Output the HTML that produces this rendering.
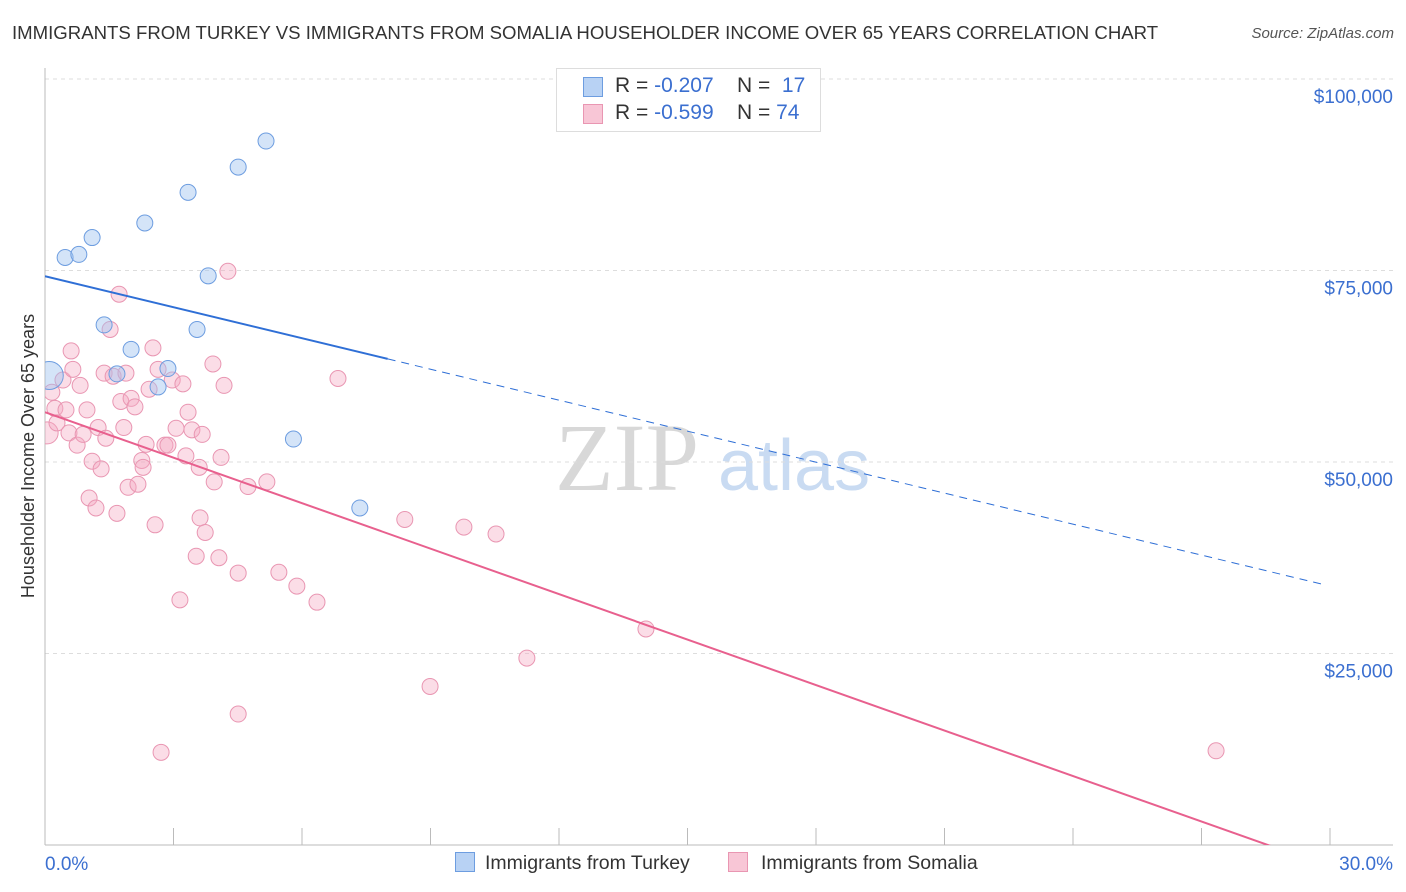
<!DOCTYPE html>
<html><head><meta charset="utf-8"><style>
body{margin:0;background:#fff;font-family:"Liberation Sans",sans-serif}
#wrap{position:relative;width:1406px;height:892px;overflow:hidden}
.t{position:absolute;white-space:nowrap}
</style></head><body>
<div id="wrap">
<div class="t" style="left:12px;top:22px;font-size:18.6px;color:#333">IMMIGRANTS FROM TURKEY VS IMMIGRANTS FROM SOMALIA HOUSEHOLDER INCOME OVER 65 YEARS CORRELATION CHART</div>
<div class="t" style="right:12px;top:25px;font-size:15px;color:#555;font-style:italic">Source: ZipAtlas.com</div>
<svg id="svg" width="1406" height="892" style="position:absolute;left:0;top:0"></svg>
</div>
<script>
const turkeyX=[0.1,0.47,0.79,1.10,1.38,1.68,2.01,2.33,2.64,2.87,3.34,3.55,3.81,4.51,5.16,5.80,7.35];
const turkeyY=[61300,76700,77100,79300,67900,61500,64700,81200,59800,62200,85200,67300,74300,88500,91900,53000,44000];
const somaliaX=[0.05,0.16,0.23,0.28,0.42,0.49,0.56,0.61,0.65,0.75,0.82,0.89,0.98,1.03,1.10,1.19,1.24,1.31,1.38,1.42,1.52,1.59,1.68,1.73,1.77,1.84,1.89,1.94,2.01,2.10,2.17,2.26,2.29,2.36,2.43,2.52,2.57,2.64,2.71,2.80,2.87,2.97,3.06,3.15,3.22,3.29,3.34,3.43,3.53,3.60,3.62,3.67,3.74,3.92,3.95,4.06,4.11,4.18,4.27,4.51,4.51,4.74,5.18,5.46,5.88,6.35,6.84,8.40,8.99,9.78,10.53,11.25,14.03,27.34];
const somaliaY=[53800,59100,57000,55100,60700,56800,53800,64500,62100,52200,60000,53600,56800,45300,50100,44000,54500,49100,61600,53100,67300,61200,43300,71900,57900,54500,61600,46700,58300,57200,47100,50200,49300,52300,59500,64900,41800,62100,12100,52200,52200,60700,54400,32000,60200,50800,56500,54200,37700,49300,42700,53600,40800,62800,47400,37500,50600,60000,74900,35500,17100,46800,47400,35600,33800,31700,60900,42500,20700,41500,40600,24400,28200,12300];
const yTicks=[25000,50000,75000,100000];
const yTickLabels=["$25,000","$50,000","$75,000","$100,000"];
const turkeyTrend=[74250,33800];
const somaliaTrend=[56500,-2870];
const NS="http://www.w3.org/2000/svg";
const svg=document.getElementById('svg');
const X0=45,X1=1330,Y0=845,PX=191.5/25000;
const sx=v=>X0+v/30*(X1-X0);
const sy=v=>Y0-v*PX;
function mk(tag,attrs,parent){const e=document.createElementNS(NS,tag);for(const k in attrs)e.setAttribute(k,attrs[k]);(parent||svg).appendChild(e);return e;}
let wm=mk('text',{x:555,y:490,'font-size':96,'font-family':'Liberation Serif,serif',fill:'#d8d8d8'});wm.textContent='ZIP';


let wm2=mk('text',{x:718,y:490,'font-size':72,'font-family':'Liberation Sans,sans-serif',fill:'#c9dbf2'});wm2.textContent='atlas';


mk('line',{x1:X0,x2:1393,y1:79,y2:79,stroke:'#ddd','stroke-dasharray':'4,4'});
yTicks.forEach((v,i)=>{
 const g=mk('line',{x1:X0,x2:1393,y1:sy(v),y2:sy(v),stroke:'#ddd','stroke-dasharray':'4,4'});
 
 
 const t=mk('text',{x:1393,y:sy(v)+24,'text-anchor':'end','font-size':19,fill:'#3b6fd0'});t.textContent=yTickLabels[i];
 
 
});
mk('line',{x1:X0,x2:1393,y1:Y0,y2:Y0,stroke:'#bbb'});
mk('line',{x1:X0,x2:X0,y1:68,y2:Y0,stroke:'#bbb'});
for(let i=0;i<=10;i++){const tk=mk('line',{x1:sx(i*3),x2:sx(i*3),y1:828,y2:Y0,stroke:'#bbb'});
 
 }
let xl=mk('text',{x:45,y:870,'font-size':19,fill:'#3b6fd0'});xl.textContent='0.0%';


let xr=mk('text',{x:1393,y:870,'font-size':19,fill:'#3b6fd0','text-anchor':'end'});xr.textContent='30.0%';


let yt=mk('text',{x:34,y:456,'font-size':18,fill:'#333','text-anchor':'middle',transform:'rotate(-90 34 456)'});yt.textContent='Householder Income Over 65 years';


const cp=mk('clipPath',{id:'cp'});mk('rect',{x:X0,y:60,width:1360,height:Y0-60},cp);
const pg=mk('g',{'clip-path':'url(#cp)'});
somaliaX.forEach((x,i)=>{const c=mk('circle',{cx:sx(x),cy:sy(somaliaY[i]),r:i==0?11:8,fill:'rgba(245,170,195,0.4)',stroke:'#e996b2','stroke-width':1},pg);
 
 });
turkeyX.forEach((x,i)=>{const c=mk('circle',{cx:sx(x),cy:sy(turkeyY[i]),r:i==0?14:8,fill:'rgba(160,195,240,0.45)',stroke:'#6d9de0','stroke-width':1},pg);
 
 });
const ty=x=>turkeyTrend[0]+(turkeyTrend[1]-turkeyTrend[0])*x/30;
let l1=mk('line',{x1:sx(0),y1:sy(ty(0)),x2:sx(8),y2:sy(ty(8)),stroke:'#2f6fd6','stroke-width':2},pg);


let l2=mk('line',{x1:sx(8),y1:sy(ty(8)),x2:sx(29.9),y2:sy(ty(29.9)),stroke:'#2f6fd6','stroke-width':1,'stroke-dasharray':'8,6'},pg);


let l3=mk('line',{x1:sx(0),y1:sy(somaliaTrend[0]),x2:sx(30),y2:sy(somaliaTrend[1]),stroke:'#e8608e','stroke-width':2},pg);


</script>
<div class="t" style="left:556px;top:68px;width:263px;height:62px;border:1px solid #ddd;background:#fff;font-size:21px;color:#333">
 <div style="position:absolute;left:27px;top:5px"><span style="display:inline-block;width:18px;height:18px;background:#b8d2f4;border:1px solid #6d9de0;position:absolute;left:-1px;top:3px"></span><span style="margin-left:31px">R = <span style="color:#3b6fd0">-0.207</span>&nbsp;&nbsp;&nbsp; N = <span style="color:#3b6fd0">&nbsp;17</span></span></div>
 <div style="position:absolute;left:27px;top:32px"><span style="display:inline-block;width:18px;height:18px;background:#f8c6d6;border:1px solid #e996b2;position:absolute;left:-1px;top:3px"></span><span style="margin-left:31px">R = <span style="color:#3b6fd0">-0.599</span>&nbsp;&nbsp;&nbsp; N = <span style="color:#3b6fd0">74</span></span></div>
</div>
<div class="t" style="left:455px;top:852px;font-size:19.5px;color:#333"><span style="display:inline-block;width:18px;height:18px;background:#b8d2f4;border:1px solid #6d9de0;vertical-align:-3px;margin-right:10px"></span>Immigrants from Turkey</div>
<div class="t" style="left:728px;top:852px;font-size:19.5px;color:#333"><span style="display:inline-block;width:18px;height:18px;background:#f8c6d6;border:1px solid #e996b2;vertical-align:-3px;margin-right:13px"></span>Immigrants from Somalia</div>
</body></html>
